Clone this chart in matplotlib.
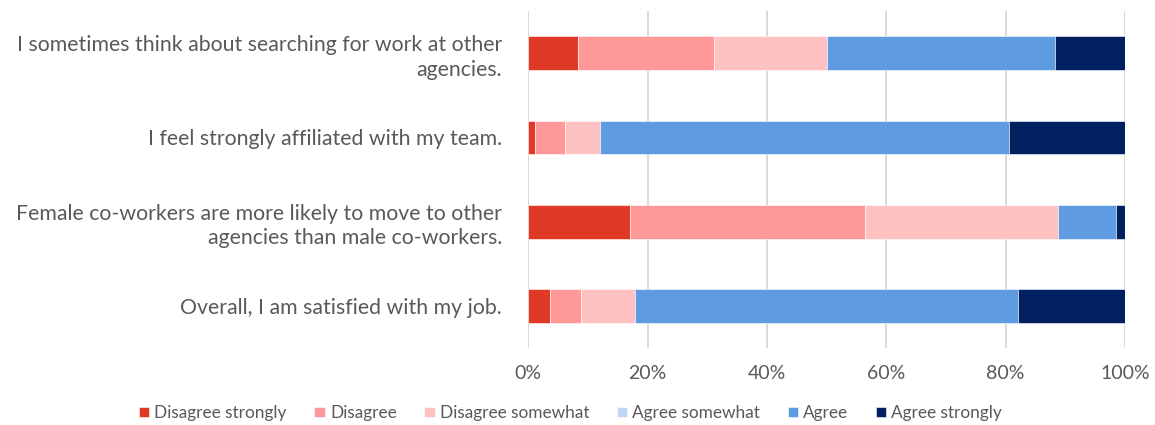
import matplotlib.pyplot as plt
import numpy as np

plt.rcParams['font.family'] = ['Lato', 'DejaVu Sans']

questions = [
    "I sometimes think about searching for work at other\nagencies.",
    "I feel strongly affiliated with my team.",
    "Female co-workers are more likely to move to other\nagencies than male co-workers.",
    "Overall, I am satisfied with my job.",
]
levels = ["Disagree strongly", "Disagree", "Disagree somewhat",
          "Agree somewhat", "Agree", "Agree strongly"]

# percent of responses per question, one list per level
disagree_strongly = [8.4, 1.1, 17.0, 3.6]
disagree = [22.7, 5.1, 39.5, 5.3]
disagree_somewhat = [18.9, 5.9, 32.3, 9.0]
agree_somewhat = [0.0, 0.0, 0.0, 0.0]
agree = [38.2, 68.4, 9.7, 64.1]
agree_strongly = [11.8, 19.5, 1.5, 18.0]

colors = ["#E03A27", "#FF9999", "#FFC2C2", "#BDD7F5", "#5F9BE0", "#00205F"]
series = [disagree_strongly, disagree, disagree_somewhat,
          agree_somewhat, agree, agree_strongly]

fig = plt.figure(figsize=(11.55, 4.25), dpi=100)
ax = fig.add_axes([0.4574, 0.181, 0.5166, 0.793])

y = np.arange(len(questions))
left = np.zeros(len(questions))
for name, vals, c in zip(levels, series, colors):
    vals = np.array(vals)
    ax.barh(y, vals / 100, left=left, height=0.4, color=c, label=name,
            edgecolor="white", linewidth=0.4)
    left += vals / 100

ax.set_ylim(len(questions) - 0.5, -0.5)
ax.set_xlim(0, 1)
ax.set_xticks(np.linspace(0, 1, 6))
ax.set_xticklabels([f"{int(v)}%" for v in np.linspace(0, 100, 6)])
ax.set_yticks(y)
ax.set_yticklabels(questions, fontsize=15.3, color="#595959", ha="right",
                   multialignment="right", linespacing=1.3)
ax.tick_params(axis="y", length=0, pad=19)
ax.tick_params(axis="x", length=0, labelsize=14, labelcolor="#595959", pad=12)
ax.grid(axis="x", color="#D3D3D3", linewidth=1.2)
ax.set_axisbelow(True)
for s in ax.spines.values():
    s.set_visible(False)

fig.legend(loc="center", bbox_to_anchor=(0.494, 0.028), ncol=6, frameon=False,
           handlelength=0.6, handleheight=0.6, handletextpad=0.3,
           columnspacing=1.6, fontsize=12.4, labelcolor="#595959")

plt.savefig("out.png", dpi=100)
